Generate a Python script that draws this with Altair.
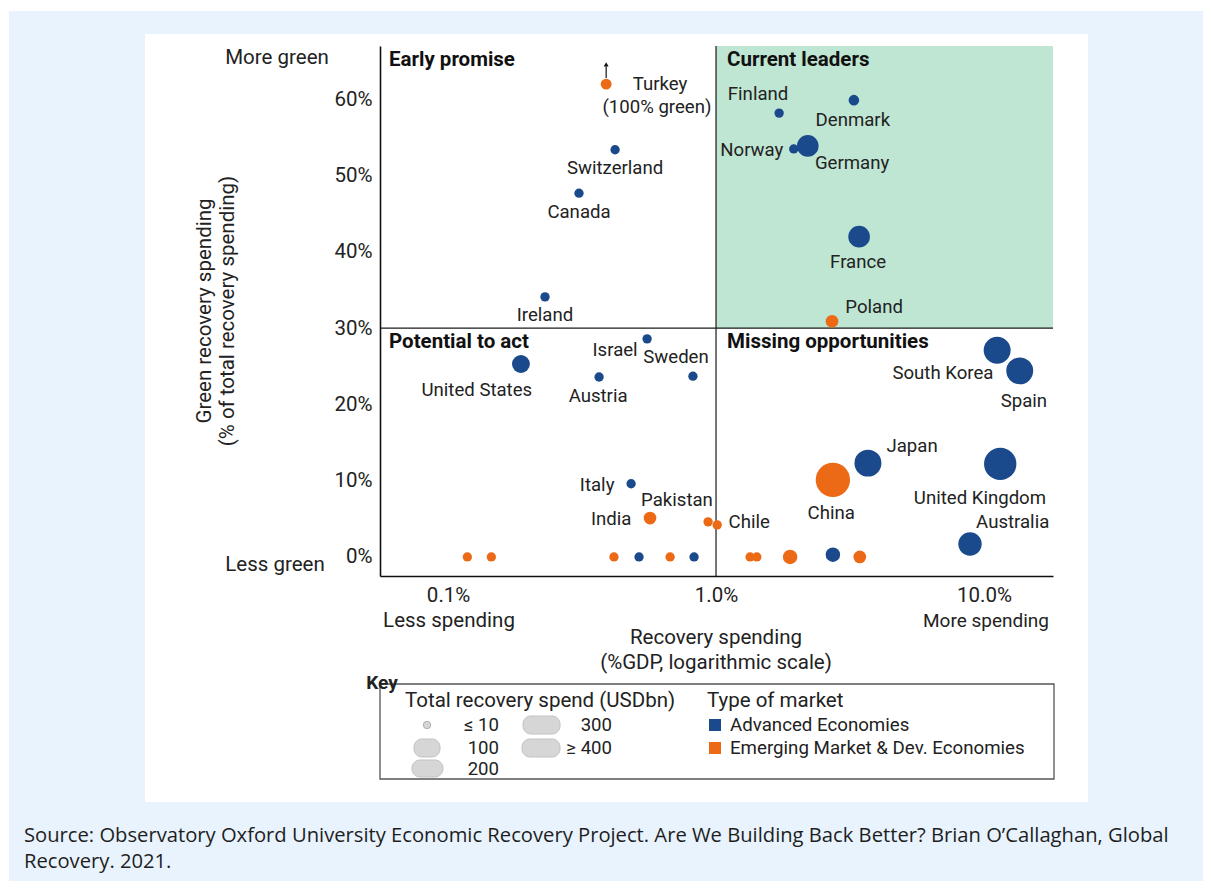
import altair as alt
import pandas as pd

# ---------------- data ----------------
countries = ["Turkey", "Switzerland", "Canada", "Ireland", "Finland", "Denmark", "Norway",
             "Germany", "France", "Poland", "United States", "Israel", "Sweden", "Austria",
             "Italy", "India", "Pakistan", "Chile", "South Korea", "Spain", "Japan",
             "United Kingdom", "China", "Australia",
             "", "", "", "", "", "", "", "", "", "", ""]
spend_gdp = [0.389, 0.42, 0.308, 0.230, 1.72, 3.27, 1.95,
             2.20, 3.42, 2.71, 0.187, 0.553, 0.820, 0.366,
             0.482, 0.567, 0.934, 1.01, 11.2, 13.6, 3.69,
             11.5, 2.73, 8.87,
             0.118, 0.145, 0.416, 0.516, 0.674, 0.828, 1.34, 1.42, 1.89, 2.73, 3.44]
green_share = [62.0, 53.4, 47.7, 34.1, 58.2, 59.9, 53.5,
               53.9, 42.0, 30.9, 25.3, 28.6, 23.7, 23.6,
               9.6, 5.1, 4.6, 4.2, 27.1, 24.4, 12.3,
               12.2, 10.1, 1.7,
               0, 0, 0, 0, 0, 0, 0, 0, 0, 0.3, 0]
total_spend = [18, 5, 5, 5, 5, 15, 5,
               160, 160, 35, 100, 5, 5, 5,
               5, 35, 5, 5, 265, 265, 265,
               395, 450, 192,
               5, 5, 5, 5, 5, 5, 5, 5, 55, 55, 35]
AE, EM = "Advanced Economies", "Emerging Market & Dev. Economies"
market = [EM, AE, AE, AE, AE, AE, AE,
          AE, AE, EM, AE, AE, AE, AE,
          AE, EM, EM, EM, AE, AE, AE,
          AE, EM, AE,
          EM, EM, EM, AE, EM, AE, EM, EM, EM, AE, EM]

label_text = ["Turkey", "(100% green)", "Switzerland", "Canada", "Ireland", "Finland", "Denmark",
              "Norway", "Germany", "France", "Poland", "United States", "Israel", "Sweden",
              "Austria", "Italy", "India", "Pakistan", "Chile", "South Korea", "Spain", "Japan",
              "United Kingdom", "China", "Australia"]
label_x = [0.618, 0.602, 0.420, 0.308, 0.230, 1.435, 3.24,
           1.36, 3.22, 3.39, 3.89, 0.128, 0.420, 0.709,
           0.363, 0.360, 0.406, 0.715, 1.33, 7.03, 14.1, 5.39,
           9.66, 2.69, 12.8]
label_y = [62.0, 59.0, 51.0, 45.2, 31.7, 60.7, 57.3,
           53.4, 51.7, 38.7, 32.8, 21.9, 27.1, 26.2,
           21.1, 9.4, 5.0, 7.5, 4.6, 24.1, 20.5, 14.6,
           7.7, 5.8, 4.6]

quadrant_titles = ["Early promise", "Current leaders", "Potential to act", "Missing opportunities"]
y_ticks = [0, 10, 20, 30, 40, 50, 60]
x_ticks = [0.1, 1.0, 10.0]
key_sizes = ["≤ 10", "100", "200", "300", "≥ 400"]
key_markets = [AE, EM]

# ---------------- styling ----------------
BLUE = "#1b4a8c"
ORANGE = "#ec6a16"
GREEN = "#bfe5d3"
PAGE_BG = "#e8f3fd"
TXT = "#222222"
FONT = "Roboto"
X_DOMAIN = [0.0557, 18.1]
Y_DOMAIN = [-2.5, 67]
W, H = 673, 530

xs = alt.Scale(type="log", domain=X_DOMAIN, nice=False)
ys = alt.Scale(domain=Y_DOMAIN, nice=False, zero=False)
x_axis = alt.Axis(values=x_ticks, labelExpr="format(datum.value, '.1f') + '%'",
                  title=None, grid=False, ticks=False, tickSize=0, labelPadding=9,
                  labelFont=FONT, labelFontSize=20.5, labelColor=TXT,
                  domainColor="#111", domainWidth=1.6, zindex=2)
y_axis = alt.Axis(values=y_ticks, labelExpr="datum.value + '%'",
                  title=None, grid=False, ticks=False, tickSize=0, labelPadding=8,
                  labelFont=FONT, labelFontSize=20.5, labelColor=TXT,
                  domainColor="#111", domainWidth=1.6, zindex=2)


def X(field):
    return alt.X(field, scale=xs, axis=x_axis)


def Y(field):
    return alt.Y(field, scale=ys, axis=y_axis)


pts = pd.DataFrame({"country": countries, "gdp": spend_gdp, "green": green_share,
                    "spend": total_spend, "market": market})
labels = pd.DataFrame({"text": label_text, "x": label_x, "y": label_y})
one = pd.DataFrame({"a": [0]})


def prect(x, x2, y, y2, **kw):
    return alt.Chart(one).mark_rect(**kw).encode(
        x=alt.value(x), x2=alt.value(x2), y=alt.value(y), y2=alt.value(y2))


def ptext(s, x, y, **kw):
    opts = dict(font=FONT, fontSize=20.5, color=TXT, align="center", baseline="middle")
    opts.update(kw)
    return alt.Chart(one).mark_text(text=s, **opts).encode(x=alt.value(x), y=alt.value(y))


# page background and white panel (pixel positions relative to plot origin)
page_bg = prect(-371, 823, -35, 835, color=PAGE_BG)
panel = prect(-235, 708, -12, 756, color="white")

# green "current leaders" quadrant
green_q = alt.Chart(pd.DataFrame({"x": [1.0], "x2": [X_DOMAIN[1]], "y": [30], "y2": [Y_DOMAIN[1]]})).mark_rect(
    color=GREEN).encode(x=X("x:Q"), x2="x2:Q", y=Y("y:Q"), y2="y2:Q")

vline = alt.Chart(pd.DataFrame({"x": [1.0], "y": [Y_DOMAIN[0]], "y2": [Y_DOMAIN[1]]})).mark_rule(
    color="#1a1a1a", strokeWidth=1.2).encode(x=X("x:Q"), y=Y("y:Q"), y2="y2:Q")
hline = alt.Chart(pd.DataFrame({"x": [X_DOMAIN[0]], "x2": [X_DOMAIN[1]], "y": [30]})).mark_rule(
    color="#1a1a1a", strokeWidth=1.2).encode(x=X("x:Q"), x2="x2:Q", y=Y("y:Q"))

# Turkey arrow (off-scale: 100% green)
arrow_df = pd.DataFrame({"x": [spend_gdp[0]], "y": [62.8], "y2": [64.3], "tip": [64.6]})
arrow_line = alt.Chart(arrow_df).mark_rule(color="#111", strokeWidth=1.2).encode(
    x=X("x:Q"), y=Y("y:Q"), y2="y2:Q")
arrow_tip = alt.Chart(arrow_df).mark_point(shape="triangle-up", filled=True, color="#111",
                                           size=24, opacity=1).encode(x=X("x:Q"), y=Y("tip:Q"))

points = alt.Chart(pts).mark_circle(opacity=1).encode(
    x=X("gdp:Q"), y=Y("green:Q"),
    size=alt.Size("spend:Q", scale=alt.Scale(domain=[0, 450], range=[75, 1180], zero=False), legend=None),
    color=alt.Color("market:N", scale=alt.Scale(domain=[AE, EM], range=[BLUE, ORANGE]), legend=None),
)

country_labels = alt.Chart(labels).mark_text(font=FONT, fontSize=18.6, color=TXT,
                                             align="center", baseline="middle").encode(
    x=X("x:Q"), y=Y("y:Q"), text="text:N")

qt = pd.DataFrame({"t": quadrant_titles, "x": [X_DOMAIN[0], 1.0, X_DOMAIN[0], 1.0],
                   "y": [Y_DOMAIN[1], Y_DOMAIN[1], 30, 30]})
q_left = alt.Chart(qt.iloc[[0, 2]]).mark_text(font=FONT, fontSize=20.5, fontWeight="bold", color="#111",
                                             align="left", baseline="middle", dx=9, dy=14).encode(
    x=X("x:Q"), y=Y("y:Q"), text="t:N")
q_right = alt.Chart(qt.iloc[[1, 3]]).mark_text(font=FONT, fontSize=20.5, fontWeight="bold", color="#111",
                                              align="left", baseline="middle", dx=11, dy=14).encode(
    x=X("x:Q"), y=Y("y:Q"), text="t:N")

# axis annotations
annos = [
    ptext("More green", -103, 12),
    ptext("Less green", -105, 519),
    ptext("Less spending", 69, 575),
    ptext("More spending", 606, 575, fontSize=19),
    ptext("Recovery spending", 336, 592),
    ptext("(%GDP, logarithmic scale)", 336, 617),
    ptext("Green recovery spending", -175, 265, angle=270),
    ptext("(% of total recovery spending)", -152, 265, angle=270),
]

# key box
key_box = prect(0, 674, 638, 733, fill=None, stroke="#555555", strokeWidth=1.3)
key_bg = prect(-18, 21, 626, 648, color="white")
key_parts = [
    ptext("Key", 2, 637, fontWeight="bold", fontSize=19),
    ptext("Total recovery spend (USDbn)", 25, 655, align="left"),
    ptext("Type of market", 327, 655, align="left"),
    alt.Chart(one).mark_circle(size=55, color="#d6d6d6", stroke="#b0b0b0", strokeWidth=1, opacity=1).encode(
        x=alt.value(47), y=alt.value(679)),
    prect(34, 60, 693, 711, fill="#d6d6d6", stroke="#c2c2c2", cornerRadius=8),
    prect(32, 63, 714, 731, fill="#d6d6d6", stroke="#c2c2c2", cornerRadius=8),
    prect(143, 180, 670, 688, fill="#d6d6d6", stroke="#c2c2c2", cornerRadius=8),
    prect(142, 180, 693, 711, fill="#d6d6d6", stroke="#c2c2c2", cornerRadius=8),
    ptext(key_sizes[0], 119, 679, align="right", fontSize=18.6),
    ptext(key_sizes[1], 119, 702, align="right", fontSize=18.6),
    ptext(key_sizes[2], 119, 723, align="right", fontSize=18.6),
    ptext(key_sizes[3], 232, 679, align="right", fontSize=18.6),
    ptext(key_sizes[4], 232, 702, align="right", fontSize=18.6),
    prect(329, 341, 673, 685, color=BLUE),
    prect(329, 341, 696, 708, color=ORANGE),
    ptext(key_markets[0], 350, 679, align="left", fontSize=18.7),
    ptext(key_markets[1], 350, 702, align="left", fontSize=18.7),
]

source = [
    ptext("Source: Observatory Oxford University Economic Recovery Project. Are We Building Back Better? Brian O\u2019Callaghan, Global",
          -356, 790, align="left", font="Open Sans", fontSize=20.2, color="#1e1e1e"),
    ptext("Recovery. 2021.", -356, 816, align="left", font="Open Sans", fontSize=20.2, color="#1e1e1e"),
]

chart = alt.layer(
    page_bg, panel, green_q, vline, hline, arrow_line, arrow_tip, points, country_labels,
    q_left, q_right, *annos, key_bg, key_box, *key_parts, *source
).properties(
    width=W, height=H,
    autosize=alt.AutoSizeParams(type="none"),
    padding={"left": 372, "top": 38, "right": 150, "bottom": 305},
).configure_view(stroke=None).configure(background="white")

chart.save("out.html", embed_options={"renderer": "svg", "actions": False})
